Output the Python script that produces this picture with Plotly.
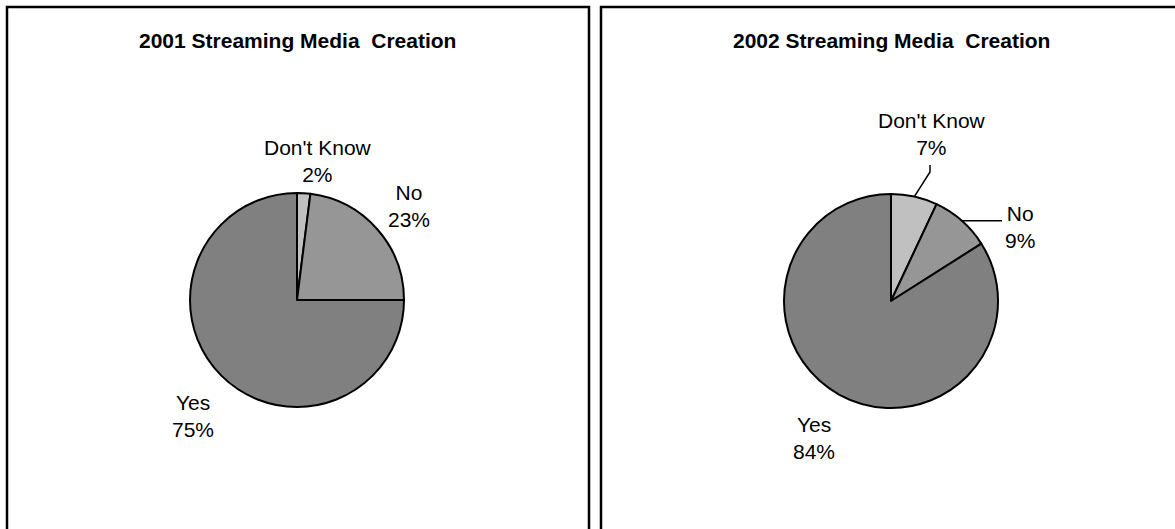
import math
import plotly.graph_objects as go

# ---- data -------------------------------------------------------------
answers = ["Don't Know", "No", "Yes"]
share_2001 = [2, 23, 75]
share_2002 = [7, 9, 84]
titles = ["2001 Streaming Media  Creation", "2002 Streaming Media  Creation"]
slice_colors = ["#c0c0c0", "#969696", "#808080"]

# ---- page geometry (pixels) ---------------------------------------------
W, H = 1175, 529
FONT = "Arial, 'Liberation Sans', sans-serif"
PANEL_X = [(7, 589), (601, 1190)]
PANEL_TOP = 7
PIE_CENTER = [(297, 300), (891, 301)]
PIE_R = 107
TITLE_Y = 40
# label block centres per panel, one per answer
LABEL_POS = [
    [(318, 161), (409, 206), (193, 416)],
    [(932, 134), (1020, 227), (814, 438)],
]


def px(x):
    return x / W


def py(y):
    return 1 - y / H


def edge_point(cx, cy, values, idx, r):
    """Point on the rim at the middle angle of slice idx (clockwise from 12 o'clock)."""
    total = sum(values)
    start = sum(values[:idx]) / total
    mid = (start + values[idx] / total / 2) * 2 * math.pi
    return cx + r * math.sin(mid), cy - r * math.cos(mid)


fig = go.Figure()
shapes = []
annotations = []

for k, vals in enumerate([share_2001, share_2002]):
    cx, cy = PIE_CENTER[k]
    fig.add_trace(go.Pie(
        labels=answers,
        values=vals,
        sort=False,
        direction="clockwise",
        rotation=0,
        textinfo="none",
        marker=dict(colors=slice_colors, line=dict(color="black", width=2)),
        domain=dict(x=[px(cx - PIE_R), px(cx + PIE_R)],
                    y=[py(cy + PIE_R), py(cy - PIE_R)]),
        showlegend=False,
    ))

    # panel frame
    x0, x1 = PANEL_X[k]
    shapes.append(dict(type="rect", xref="paper", yref="paper",
                       x0=px(x0), x1=px(x1), y0=py(PANEL_TOP), y1=py(H + 20),
                       line=dict(color="black", width=2.5)))

    # title
    annotations.append(dict(
        text="<b>" + titles[k].replace("  ", "\u00a0 ") + "</b>",
        x=px(cx), y=py(TITLE_Y), xref="paper", yref="paper",
        xanchor="center", yanchor="middle", showarrow=False,
        font=dict(family=FONT, size=21, color="black")))

    # slice labels
    for i, lab in enumerate(answers):
        lx, ly = LABEL_POS[k][i]
        annotations.append(dict(
            text=f"{lab}<br>{vals[i]}%",
            x=px(lx), y=py(ly), xref="paper", yref="paper",
            xanchor="center", yanchor="middle", showarrow=False,
            font=dict(family=FONT, size=21, color="black")))

# leader lines on the 2002 pie
cx, cy = PIE_CENTER[1]
sx, sy = edge_point(cx, cy, share_2002, 0, PIE_R)
dk_x, dk_y = LABEL_POS[1][0]
shapes.append(dict(type="path", xref="paper", yref="paper",
                   path=f"M {px(sx)},{py(sy)} L {px(dk_x - 2)},{py(dk_y + 38)} "
                        f"L {px(dk_x - 2)},{py(dk_y + 31)}",
                   line=dict(color="black", width=1.5)))
sx, sy = edge_point(cx, cy, share_2002, 1, PIE_R)
no_x, no_y = LABEL_POS[1][1]
shapes.append(dict(type="line", xref="paper", yref="paper",
                   x0=px(sx), y0=py(sy), x1=px(no_x - 18), y1=py(sy),
                   line=dict(color="black", width=1.5)))

fig.update_layout(
    width=W, height=H,
    margin=dict(l=0, r=0, t=0, b=0),
    paper_bgcolor="white",
    plot_bgcolor="white",
    shapes=shapes,
    annotations=annotations,
)

fig.write_html("out.html")
